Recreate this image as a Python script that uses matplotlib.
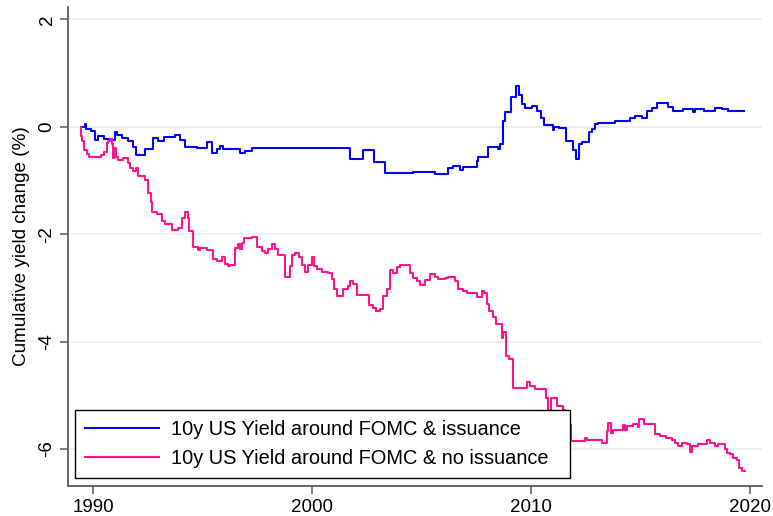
import matplotlib
matplotlib.use('Agg')
import matplotlib.pyplot as plt
from matplotlib.lines import Line2D

plt.rcParams['font.family'] = ['Liberation Sans', 'DejaVu Sans']
plt.rcParams['axes.unicode_minus'] = False

# 10y US Yield around FOMC & issuance (step series: year, cumulative change %)
issuance_years = [
    1989.44, 1989.65, 1989.70, 1989.90, 1990.09, 1990.24, 1990.52, 1990.85, 1991.00, 1991.08,
    1991.31, 1991.61, 1991.84, 1991.96, 1992.37, 1992.75, 1992.98, 1993.24, 1993.74, 1993.97,
    1994.20, 1994.73, 1995.19, 1995.42, 1995.65, 1995.80, 1995.95, 1996.71, 1996.94, 1997.25,
    2001.74, 2002.31, 2002.83, 2003.35, 2004.63, 2004.70, 2005.60, 2006.22, 2006.45, 2006.76,
    2006.91, 2007.52, 2007.60, 2008.05, 2008.50, 2008.58, 2008.74, 2008.81, 2009.07, 2009.30,
    2009.47, 2009.60, 2009.73, 2010.03, 2010.29, 2010.46, 2010.59, 2011.02, 2011.05, 2011.29,
    2011.60, 2011.93, 2012.05, 2012.19, 2012.31, 2012.66, 2012.77, 2012.92, 2013.07, 2013.84,
    2014.52, 2014.75, 2015.05, 2015.28, 2015.51, 2015.77, 2016.04, 2016.27, 2016.50, 2016.93,
    2017.41, 2017.49, 2017.90, 2018.40, 2018.71, 2019.01, 2019.39, 2019.74,
]
issuance_values = [
    0.00, 0.06, -0.04, -0.07, -0.24, -0.18, -0.23, -0.24, -0.09, -0.15,
    -0.21, -0.26, -0.38, -0.53, -0.41, -0.21, -0.26, -0.19, -0.15, -0.24,
    -0.38, -0.39, -0.29, -0.48, -0.42, -0.36, -0.41, -0.48, -0.45, -0.39,
    -0.60, -0.44, -0.66, -0.86, -0.84, -0.85, -0.88, -0.77, -0.73, -0.80,
    -0.74, -0.64, -0.57, -0.38, -0.42, -0.33, 0.10, 0.27, 0.55, 0.75,
    0.60, 0.42, 0.35, 0.38, 0.29, 0.16, 0.03, -0.06, 0.00, -0.02,
    -0.26, -0.43, -0.60, -0.33, -0.29, -0.10, -0.05, 0.06, 0.07, 0.10,
    0.16, 0.20, 0.16, 0.30, 0.35, 0.45, 0.44, 0.36, 0.29, 0.33,
    0.27, 0.33, 0.30, 0.35, 0.33, 0.30, 0.29, 0.29,
]

# 10y US Yield around FOMC & no issuance
no_issuance_years = [
    1989.44, 1989.47, 1989.52, 1989.59, 1989.71, 1989.82, 1990.37, 1990.52, 1990.62, 1990.70,
    1990.78, 1990.85, 1990.93, 1990.97, 1991.04, 1991.16, 1991.38, 1991.61, 1991.69, 1991.84,
    1991.95, 1992.07, 1992.37, 1992.50, 1992.65, 1992.71, 1992.91, 1993.14, 1993.29, 1993.59,
    1993.90, 1994.08, 1994.20, 1994.32, 1994.38, 1994.58, 1994.81, 1994.89, 1995.19, 1995.49,
    1995.65, 1995.88, 1996.03, 1996.18, 1996.26, 1996.48, 1996.61, 1996.71, 1996.79, 1996.91,
    1997.02, 1997.25, 1997.47, 1997.70, 1997.85, 1998.01, 1998.16, 1998.31, 1998.46, 1998.77,
    1998.99, 1999.07, 1999.22, 1999.41, 1999.53, 1999.68, 1999.83, 1999.99, 2000.09, 2000.21,
    2000.44, 2000.74, 2000.90, 2001.02, 2001.13, 2001.43, 2001.66, 2001.74, 2001.89, 2002.04,
    2002.62, 2002.77, 2002.92, 2003.10, 2003.23, 2003.44, 2003.56, 2003.71, 2003.87, 2004.02,
    2004.47, 2004.63, 2004.78, 2004.93, 2005.16, 2005.39, 2005.62, 2005.77, 2006.07, 2006.22,
    2006.53, 2006.68, 2006.91, 2007.06, 2007.52, 2007.75, 2007.85, 2007.98, 2008.10, 2008.25,
    2008.40, 2008.66, 2008.74, 2008.86, 2009.01, 2009.19, 2009.80, 2009.95, 2010.18, 2010.68,
    2010.79, 2010.90, 2011.17, 2011.45, 2011.55, 2011.70, 2011.85, 2012.47, 2012.54, 2013.23,
    2013.46, 2013.53, 2013.64, 2013.73, 2014.19, 2014.29, 2014.40, 2014.67, 2014.90, 2014.95,
    2015.16, 2015.66, 2015.89, 2016.16, 2016.42, 2016.58, 2016.73, 2016.88, 2017.11, 2017.26,
    2017.34, 2017.64, 2018.05, 2018.17, 2018.40, 2018.55, 2018.86, 2018.96, 2019.09, 2019.21,
    2019.39, 2019.51, 2019.62, 2019.77,
]
no_issuance_values = [
    0.00, -0.18, -0.27, -0.43, -0.51, -0.56, -0.52, -0.47, -0.30, -0.27,
    -0.22, -0.33, -0.58, -0.40, -0.56, -0.61, -0.58, -0.68, -0.77, -0.82,
    -0.76, -0.92, -0.99, -1.23, -1.41, -1.58, -1.62, -1.76, -1.81, -1.92,
    -1.89, -1.70, -1.59, -1.70, -1.95, -2.23, -2.30, -2.25, -2.30, -2.46,
    -2.50, -2.43, -2.56, -2.60, -2.58, -2.26, -2.19, -2.28, -2.17, -2.08,
    -2.07, -2.06, -2.23, -2.31, -2.35, -2.28, -2.19, -2.28, -2.38, -2.79,
    -2.60, -2.39, -2.36, -2.43, -2.57, -2.71, -2.57, -2.43, -2.59, -2.64,
    -2.70, -2.73, -2.83, -3.03, -3.16, -3.03, -2.97, -2.88, -2.93, -3.14,
    -3.31, -3.38, -3.44, -3.40, -3.16, -3.02, -2.67, -2.72, -2.62, -2.58,
    -2.72, -2.82, -2.88, -2.94, -2.85, -2.75, -2.80, -2.84, -2.81, -2.80,
    -2.88, -3.02, -3.05, -3.10, -3.17, -3.05, -3.10, -3.30, -3.44, -3.55,
    -3.67, -3.93, -3.82, -4.27, -4.33, -4.86, -4.75, -4.82, -4.88, -5.05,
    -5.27, -5.05, -5.20, -5.28, -5.33, -5.55, -5.86, -5.80, -5.83, -5.88,
    -5.67, -5.51, -5.70, -5.64, -5.56, -5.64, -5.58, -5.54, -5.60, -5.45,
    -5.54, -5.73, -5.75, -5.80, -5.84, -5.88, -5.95, -5.88, -5.91, -6.05,
    -5.95, -5.91, -5.84, -5.88, -5.95, -5.91, -6.00, -6.07, -6.10, -6.17,
    -6.20, -6.35, -6.41, -6.41,
]

series_labels = ['10y US Yield around FOMC & issuance',
                 '10y US Yield around FOMC & no issuance']
x_ticks = [1990, 2000, 2010, 2020]
y_ticks = [-6, -4, -2, 0, 2]
y_title = 'Cumulative yield change (%)'

blue = '#0000ff'
pink = '#ff1489'
axis_gray = '#5a5a5a'

fig = plt.figure(figsize=(7.73, 5.16), dpi=100)
ax = fig.add_axes([0.088, 0.0581, 0.8978, 0.9283])

ax.step(issuance_years, issuance_values, where='post', color=blue, lw=1.5, zorder=3)
ax.step(no_issuance_years, no_issuance_values, where='post', color=pink, lw=1.5, zorder=3)

ax.set_xlim(1988.86, 2020.55)
ax.set_ylim(-6.69, 2.23)
ax.set_xticks(x_ticks)
ax.set_yticks(y_ticks)
ax.set_xticklabels([str(t) for t in x_ticks])
ax.set_yticklabels([str(t) for t in y_ticks], rotation=90, va='center')

ax.yaxis.grid(True, color='#eaf2f3', lw=1.4)
ax.xaxis.grid(False)
ax.set_axisbelow(True)

for s in ['top', 'right']:
    ax.spines[s].set_visible(False)
for s in ['left', 'bottom']:
    ax.spines[s].set_color(axis_gray)
    ax.spines[s].set_linewidth(1.3)

ax.tick_params(axis='both', length=6, width=1.1, color=axis_gray,
               labelsize=13.5, labelcolor='black', pad=3)
ax.set_ylabel(y_title, fontsize=13.6, labelpad=6)

handles = [Line2D([], [], color=blue, lw=1.5), Line2D([], [], color=pink, lw=1.5)]
leg = ax.legend(handles, series_labels, loc='lower left',
                bbox_to_anchor=(0.010, 0.0167, 0.713, 0.142), mode='expand',
                fontsize=14.4, frameon=True, fancybox=False, framealpha=1,
                edgecolor='black', handlelength=3.7, handletextpad=0.6,
                borderpad=0.5, labelspacing=0.5, borderaxespad=0)
leg.get_frame().set_linewidth(1.0)
leg.set_zorder(5)

fig.savefig('out.png', dpi=100)
